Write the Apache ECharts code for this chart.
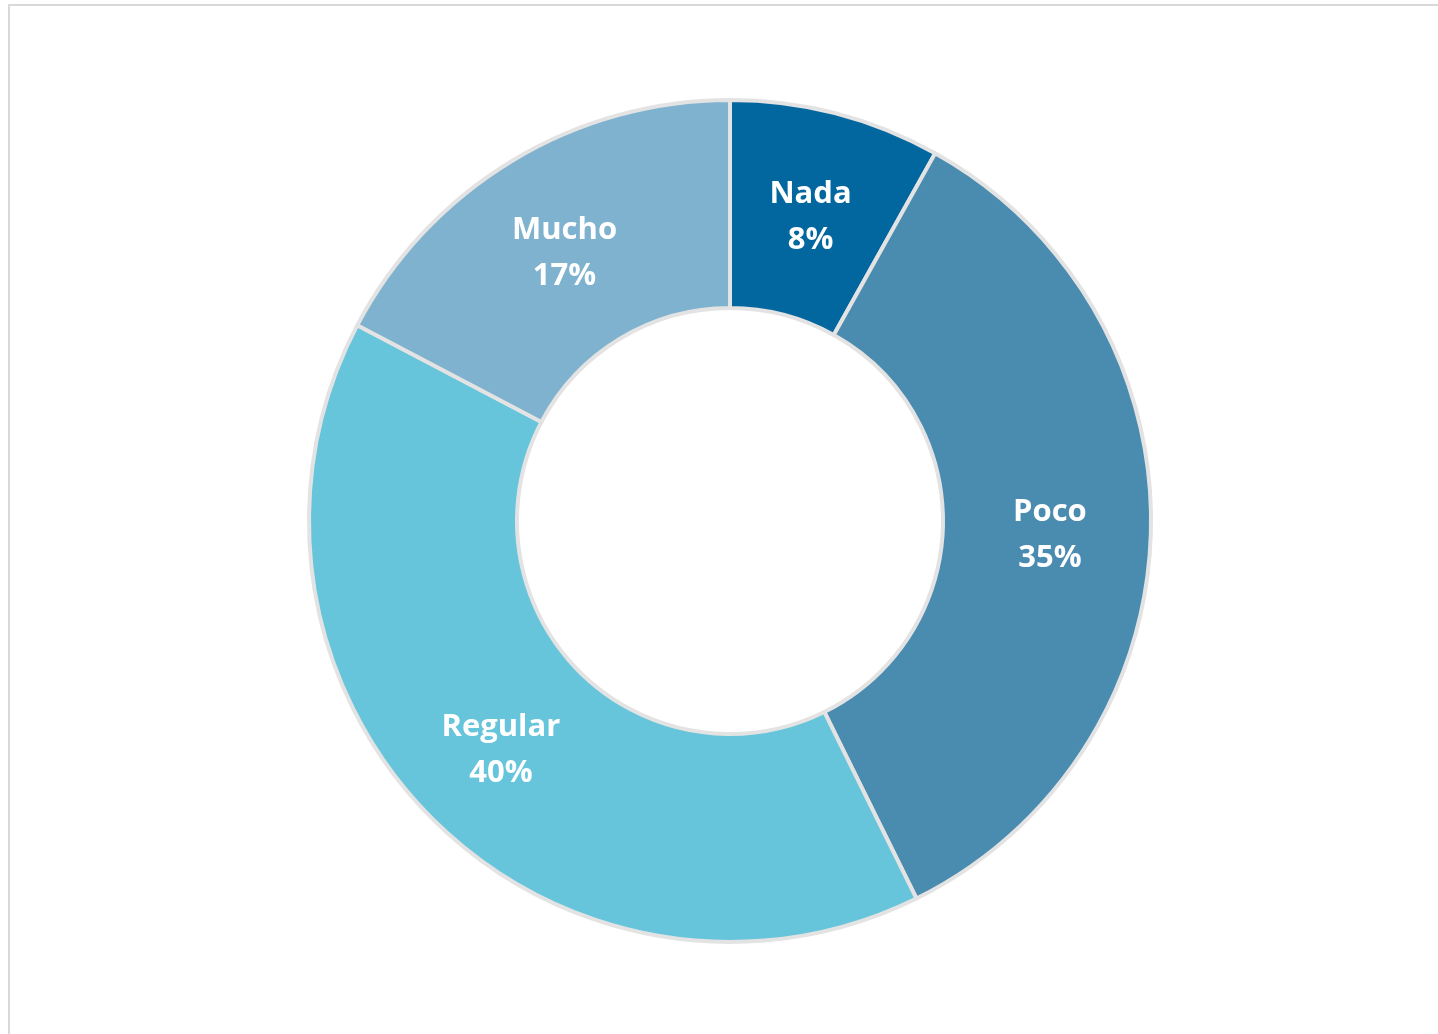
<!DOCTYPE html>
<html>
<head>
<meta charset="utf-8">
<script src="https://cdn.jsdelivr.net/npm/echarts@6/dist/echarts.min.js"></script>
<style>
html,body{margin:0;padding:0;background:#fff;width:1438px;height:1034px;overflow:hidden;}
#frame{position:absolute;left:8px;top:4px;width:1500px;height:1100px;border-top:2px solid #d9d9d9;border-left:2px solid #d9d9d9;box-sizing:border-box;}
#chart{position:absolute;left:0;top:0;width:1438px;height:1034px;}
</style>
</head>
<body>
<div id="frame"></div>
<div id="chart"></div>
<script>
const categories = ['Nada', 'Poco', 'Regular', 'Mucho'];
const values = [8.1, 34.6, 40.0, 17.3];
const colors = ['#02679F', '#4A8BB0', '#66C4DB', '#7FB2CF'];

const chart = echarts.init(document.getElementById('chart'), null, {renderer: 'canvas'});
chart.setOption({
  animation: false,
  series: [{
    type: 'pie',
    center: [730, 521],
    radius: [213, 421],
    startAngle: 90,
    clockwise: true,
    avoidLabelOverlap: false,
    itemStyle: {borderColor: '#e3e3e3', borderWidth: 4},
    label: {
      show: true,
      position: 'inside',
      offset: [0, 6],
      color: '#ffffff',
      fontFamily: '"Open Sans", "Noto Sans", sans-serif',
      fontWeight: 'bold',
      fontSize: 31,
      lineHeight: 46,
      formatter: p => p.name + '\n' + Math.round(p.percent) + '%'
    },
    labelLine: {show: false},
    emphasis: {disabled: true},
    data: categories.map((c, i) => ({name: c, value: values[i], itemStyle: {color: colors[i]}}))
  }]
});
</script>
</body>
</html>
